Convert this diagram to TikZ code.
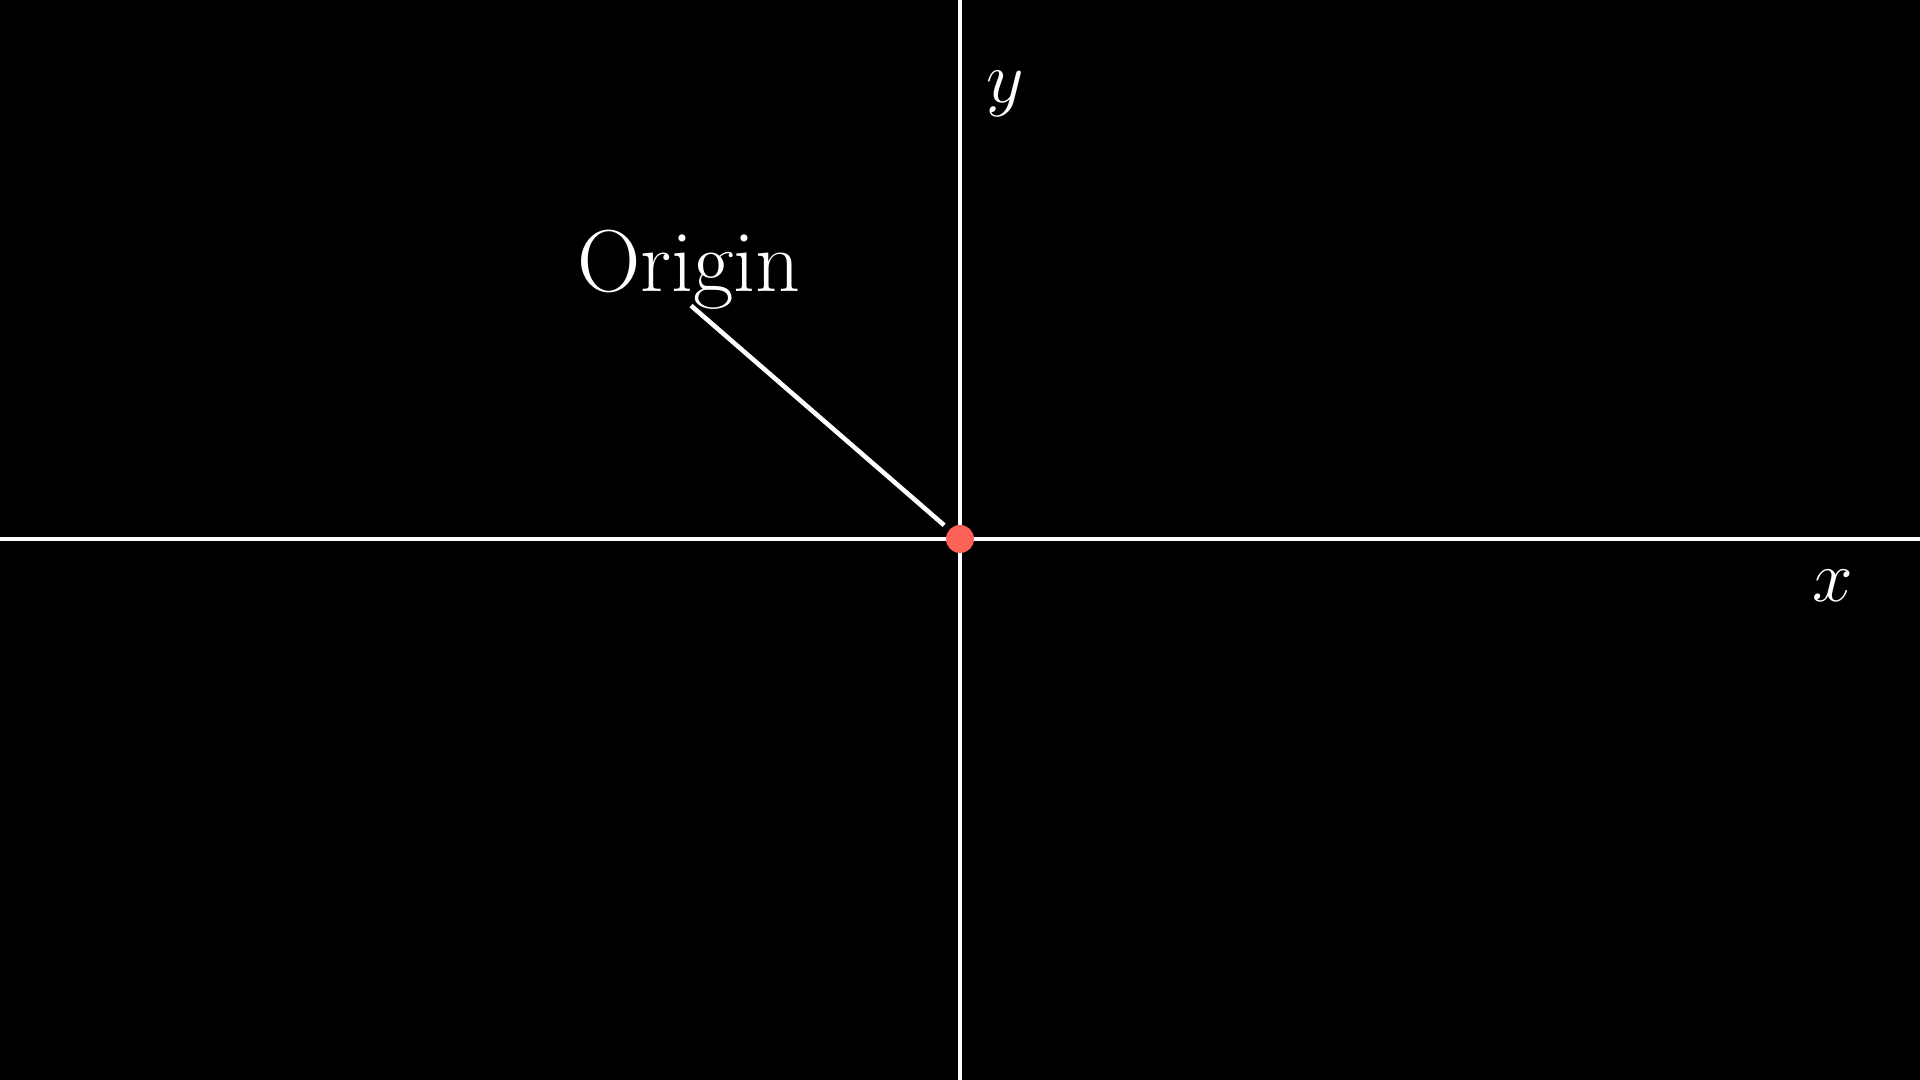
\documentclass[tikz,border=0pt]{standalone}
\usepackage{xcolor}
\usepackage{tikz}
\usetikzlibrary{arrows.meta, positioning, calc}

\definecolor{dotred}{HTML}{FC6255}
\tikzset{
  axisline/.style={white, line width=1.3pt},
  biglabel/.style={white, font=\fontsize{22.5}{28}\selectfont, inner sep=0pt},
}

\begin{document}
\begin{tikzpicture}[x=0.01cm, y=-0.01cm]
  \fill[black] (0,0) rectangle (1920,1080);
  \useasboundingbox (0,0) rectangle (1920,1080);
  % axes
  \draw[axisline] (0,539) -- (1920,539);
  \draw[axisline] (960,0) -- (960,1080);
  \node[biglabel, anchor=base] (ylab) at (1005,103) {$y$};
  \node[biglabel, anchor=base] (xlab) at (1833,602) {$x$};
  % origin marker
  \coordinate (orig) at (960,539);
  \node[white, font=\fontsize{25}{30}\selectfont, inner sep=0pt, anchor=base] (origlab) at (689,292) {Origin};
  \draw[axisline, shorten >=0.21cm] ([xshift=0.02cm, yshift=0.05cm]origlab.south) -- (orig);
  \node[circle, fill=dotred, inner sep=0pt, minimum size=0.28cm] (origdot) at (orig) {};
\end{tikzpicture}
\end{document}
